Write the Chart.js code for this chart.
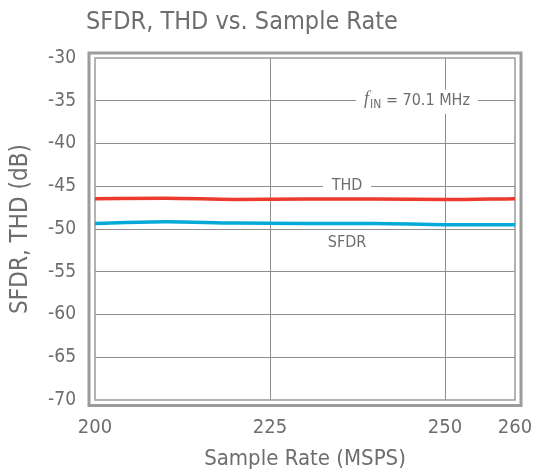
<!DOCTYPE html>
<html>
<head>
<meta charset="utf-8">
<script src="https://cdn.jsdelivr.net/npm/chart.js@4.4.1/dist/chart.umd.min.js"></script>
<style>
  html, body { margin: 0; padding: 0; background: #fff; }
  #wrap { width: 536px; height: 470px; }
</style>
</head>
<body>
<div id="wrap"><canvas id="chart" width="536" height="470"></canvas></div>
<script>
// data
const sampleRate = [200, 210, 220, 230, 240, 250, 260];
const thd  = [-46.45, -46.4, -46.55, -46.5, -46.5, -46.55, -46.45];
const sfdr = [-49.35, -49.15, -49.3, -49.35, -49.35, -49.5, -49.5];
const xTicks = [200, 225, 250, 260];
const yTicks = [-70, -65, -60, -55, -50, -45, -40, -35, -30];

const FONT = "'DejaVu Sans Condensed', 'DejaVu Sans', sans-serif";
const TXT = "#6e6e6e";
const GRID = "#8e8e8e";

const frame = {
  id: "frame",
  beforeDatasetsDraw(chart) {
    const { ctx, chartArea: a, scales } = chart;
    ctx.save();
    // inner border
    ctx.strokeStyle = "#9a9a9a";
    ctx.lineWidth = 1.5;
    ctx.strokeRect(a.left, a.top, a.right - a.left, a.bottom - a.top);
    // outer thick border
    ctx.strokeStyle = "#9c9c9c";
    ctx.lineWidth = 3;
    ctx.strokeRect(a.left - 6, a.top - 5, a.right - a.left + 12, a.bottom - a.top + 10.5);

    const x = scales.x, y = scales.y;
    ctx.textBaseline = "middle";
    ctx.textAlign = "center";
    ctx.fillStyle = TXT;

    // THD label on its gridline
    ctx.font = "16px " + FONT;
    let cx = x.getPixelForValue(236), cy = y.getPixelForValue(-45);
    ctx.fillStyle = "#fff";
    ctx.fillRect(cx - 24, cy - 10, 48, 20);
    ctx.fillStyle = TXT;
    ctx.fillText("THD", cx, cy);

    // SFDR label
    cx = x.getPixelForValue(236); cy = y.getPixelForValue(-51.65);
    ctx.fillText("SFDR", cx, cy);

    // fIN label
    cx = x.getPixelForValue(246); cy = y.getPixelForValue(-35);
    ctx.fillStyle = "#fff";
    ctx.fillRect(cx - 61, cy - 11, 122, 24);
    ctx.fillStyle = TXT;
    ctx.textAlign = "left";
    const f1 = "italic 18px 'Liberation Serif', serif";
    const f2 = "12px " + FONT;
    const f3 = "16px " + FONT;
    ctx.font = f1; const w1 = ctx.measureText("f").width;
    ctx.font = f2; const w2 = ctx.measureText("IN").width;
    ctx.font = f3; const w3 = ctx.measureText(" = 70.1 MHz").width;
    let sx = cx - (w1 + 1 + w2 + w3) / 2;
    ctx.font = f1; ctx.fillText("f", sx, cy - 1); sx += w1 + 1;
    ctx.font = f2; ctx.fillText("IN", sx, cy + 4); sx += w2;
    ctx.font = f3; ctx.fillText(" = 70.1 MHz", sx, cy);
    ctx.restore();
  },
  afterDraw(chart) {
    const { ctx } = chart;
    ctx.save();
    ctx.font = "25px " + FONT;
    ctx.fillStyle = TXT;
    ctx.textBaseline = "alphabetic";
    ctx.textAlign = "left";
    ctx.fillText("SFDR, THD vs. Sample Rate", 86, 29);
    ctx.restore();
  }
};

new Chart(document.getElementById("chart"), {
  type: "line",
  data: {
    datasets: [
      {
        label: "THD",
        data: sampleRate.map((r, i) => ({ x: r, y: thd[i] })),
        borderColor: "#ec3a2c",
        borderWidth: 3.5,
        pointRadius: 0,
        cubicInterpolationMode: "monotone"
      },
      {
        label: "SFDR",
        data: sampleRate.map((r, i) => ({ x: r, y: sfdr[i] })),
        borderColor: "#04a9d8",
        borderWidth: 3.5,
        pointRadius: 0,
        cubicInterpolationMode: "monotone"
      }
    ]
  },
  options: {
    responsive: false,
    animation: false,
    layout: { padding: { top: 58, right: 21, left: 0, bottom: 0 } },
    plugins: { legend: { display: false }, tooltip: { enabled: false } },
    scales: {
      x: {
        type: "linear",
        min: 200,
        max: 260,
        afterBuildTicks: s => { s.ticks = xTicks.map(v => ({ value: v })); },
        afterFit: s => { s.height = 70; s.paddingLeft = 0; s.paddingRight = 0; },
        grid: {
          drawTicks: false,
          color: c => (c.tick && (c.tick.value === 200 || c.tick.value === 260)) ? "rgba(0,0,0,0)" : GRID,
          lineWidth: 1
        },
        border: { display: false },
        ticks: { padding: 16, color: TXT, font: { family: FONT, size: 20 }, maxRotation: 0 },
        title: {
          display: true,
          text: "Sample Rate (MSPS)",
          color: TXT,
          font: { family: FONT, size: 22, lineHeight: 1 },
          padding: { top: 0, bottom: 0 }
        }
      },
      y: {
        min: -70,
        max: -30,
        afterBuildTicks: s => { s.ticks = yTicks.map(v => ({ value: v })); },
        afterFit: s => { s.width = 95; s.paddingTop = 0; s.paddingBottom = 0; },
        grid: {
          drawTicks: false,
          color: c => (c.tick && (c.tick.value === -30 || c.tick.value === -70)) ? "rgba(0,0,0,0)" : GRID,
          lineWidth: 1
        },
        border: { display: false },
        ticks: { padding: 19, color: TXT, font: { family: FONT, size: 19 } },
        title: {
          display: true,
          text: "SFDR, THD (dB)",
          color: TXT,
          font: { family: FONT, size: 24 },
          padding: { top: 6, bottom: 0 }
        }
      }
    }
  },
  plugins: [frame]
});
</script>
</body>
</html>
